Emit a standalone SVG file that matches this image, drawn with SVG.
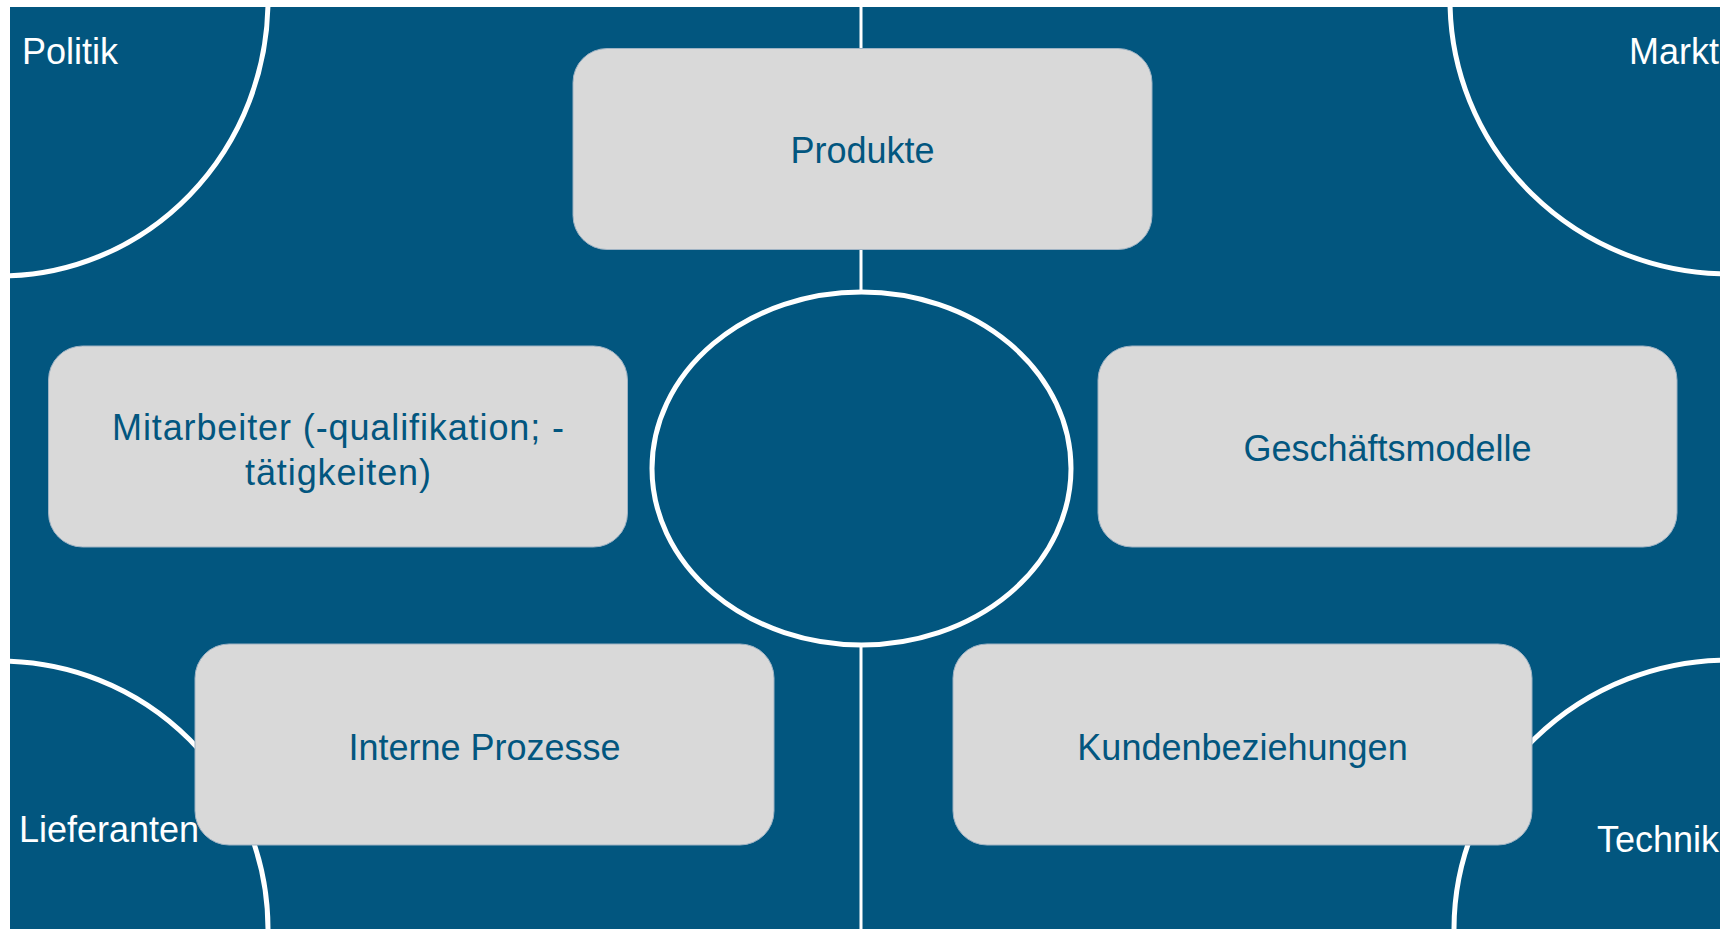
<svg xmlns="http://www.w3.org/2000/svg" width="1729" height="929" viewBox="0 0 1729 929">
<style>
.bg{fill:#02567F}
.ln{stroke:#FFFFFF;fill:none}
.box{fill:#D9D9D9;stroke:#9FB3C4;stroke-width:1}
.bt{font-family:"Liberation Sans",Arial,sans-serif;font-size:36px;fill:#02567F;text-anchor:middle}
.ct{font-family:"Liberation Sans",Arial,sans-serif;font-size:36px;fill:#FFFFFF}
</style>
<defs>
<clipPath id="clipbg"><rect x="10" y="7" width="1710" height="922"/></clipPath>
</defs>
<rect width="1729" height="929" fill="#FFFFFF"/>
<rect class="bg" x="10" y="7" width="1710" height="922"/>
<g id="connectors" clip-path="url(#clipbg)">
<line class="ln" x1="861" y1="0" x2="861" y2="929" stroke-width="3"/>
<ellipse class="ln" cx="0" cy="0" rx="268" ry="276" stroke-width="5"/>
<ellipse class="ln" cx="1729" cy="0" rx="279" ry="274" stroke-width="5"/>
<ellipse class="ln" cx="0" cy="929" rx="268" ry="268" stroke-width="5"/>
<ellipse class="ln" cx="1729" cy="929" rx="275" ry="269" stroke-width="5"/>
</g>
<g id="corner-labels" clip-path="url(#clipbg)">
<text id="politik" class="ct" x="22" y="64">Politik</text>
<text id="markt" class="ct" x="1719" y="64" text-anchor="end">Markt</text>
<text id="lieferanten" class="ct" x="19" y="842">Lieferanten</text>
<text id="technik" class="ct" x="1719" y="852" text-anchor="end">Technik</text>
</g>
<g id="center">
<ellipse cx="861.5" cy="468.5" rx="209.5" ry="176.5" fill="#02567F" stroke="#FFFFFF" stroke-width="5"/>
</g>
<g id="produkte">
<rect class="box" x="573" y="48.5" width="579" height="201" rx="34"/>
<text class="bt" x="862.5" y="163">Produkte</text>
</g>
<g id="mitarbeiter">
<rect class="box" x="48.5" y="346" width="579" height="201" rx="34"/>
<text class="bt" x="338" y="440" textLength="452" lengthAdjust="spacing">Mitarbeiter (-qualifikation; -</text>
<text class="bt" x="338" y="485" textLength="186" lengthAdjust="spacing">tätigkeiten)</text>
</g>
<g id="geschaeftsmodelle">
<rect class="box" x="1098" y="346" width="579" height="201" rx="34"/>
<text class="bt" x="1387.5" y="461">Geschäftsmodelle</text>
</g>
<g id="interne-prozesse">
<rect class="box" x="195" y="644" width="579" height="201" rx="34"/>
<text class="bt" x="484.5" y="760">Interne Prozesse</text>
</g>
<g id="kundenbeziehungen">
<rect class="box" x="953" y="644" width="579" height="201" rx="34"/>
<text class="bt" x="1242.5" y="760">Kundenbeziehungen</text>
</g>
</svg>
